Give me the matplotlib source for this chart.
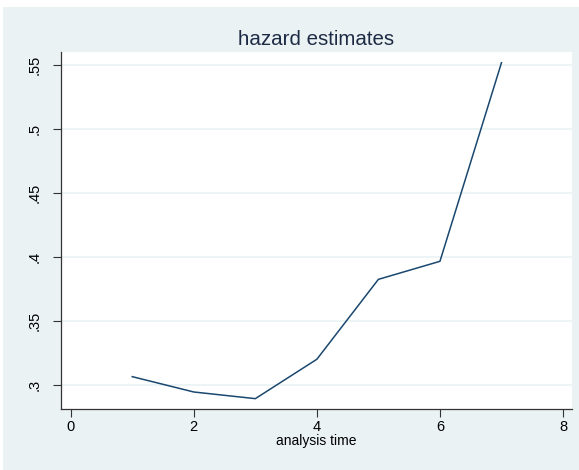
import matplotlib.pyplot as plt
from matplotlib.patches import Rectangle

# hazard estimates
analysis_time = [1, 2, 3, 4, 5, 6, 7]
hazard = [0.3063, 0.2943, 0.2891, 0.3199, 0.3824, 0.3965, 0.5518]

x_ticks = [0, 2, 4, 6, 8]
y_ticks = [0.3, 0.35, 0.4, 0.45, 0.5, 0.55]
y_labels = ['.3', '.35', '.4', '.45', '.5', '.55']

bg = '#eaf2f3'
navy = '#1a476f'

plt.rcParams['font.family'] = ['Liberation Sans', 'DejaVu Sans']

fig = plt.figure(figsize=(5.79, 4.70), dpi=100, facecolor='white')
# graph region sits inside a thin white margin (top and left)
fig.patches.append(Rectangle((3 / 579, -0.05), 1.1, 1.05 - 7 / 470, transform=fig.transFigure,
                             facecolor=bg, edgecolor='none', zorder=-1))

ax = fig.add_axes([61 / 579, 1 - 409 / 470, 511 / 579, 357 / 470])
ax.set_facecolor('white')

ax.plot(analysis_time, hazard, color=navy, lw=1.1)

ax.set_xlim(-0.158, 8.146)
ax.set_ylim(0.281, 0.5602)
ax.set_xticks(x_ticks)
ax.set_yticks(y_ticks)
ax.set_yticklabels(y_labels, rotation=90, va='center')
ax.yaxis.grid(True, color=bg, lw=1.2)
ax.set_axisbelow(True)

for s in ['top', 'right']:
    ax.spines[s].set_visible(False)
for s in ['left', 'bottom']:
    ax.spines[s].set_color('#333333')
    ax.spines[s].set_linewidth(0.9)

ax.tick_params(axis='both', length=6, width=0.8, color='#333333', labelsize=10.5, labelcolor='black')
ax.tick_params(axis='y', pad=8)
ax.tick_params(axis='x', pad=2)

ax.set_xlabel('analysis time', fontsize=10, labelpad=0)
ax.set_title('hazard estimates', fontsize=14.8, color='#1e2b45', pad=5)

fig.savefig('out.png', dpi=100, facecolor='white')
